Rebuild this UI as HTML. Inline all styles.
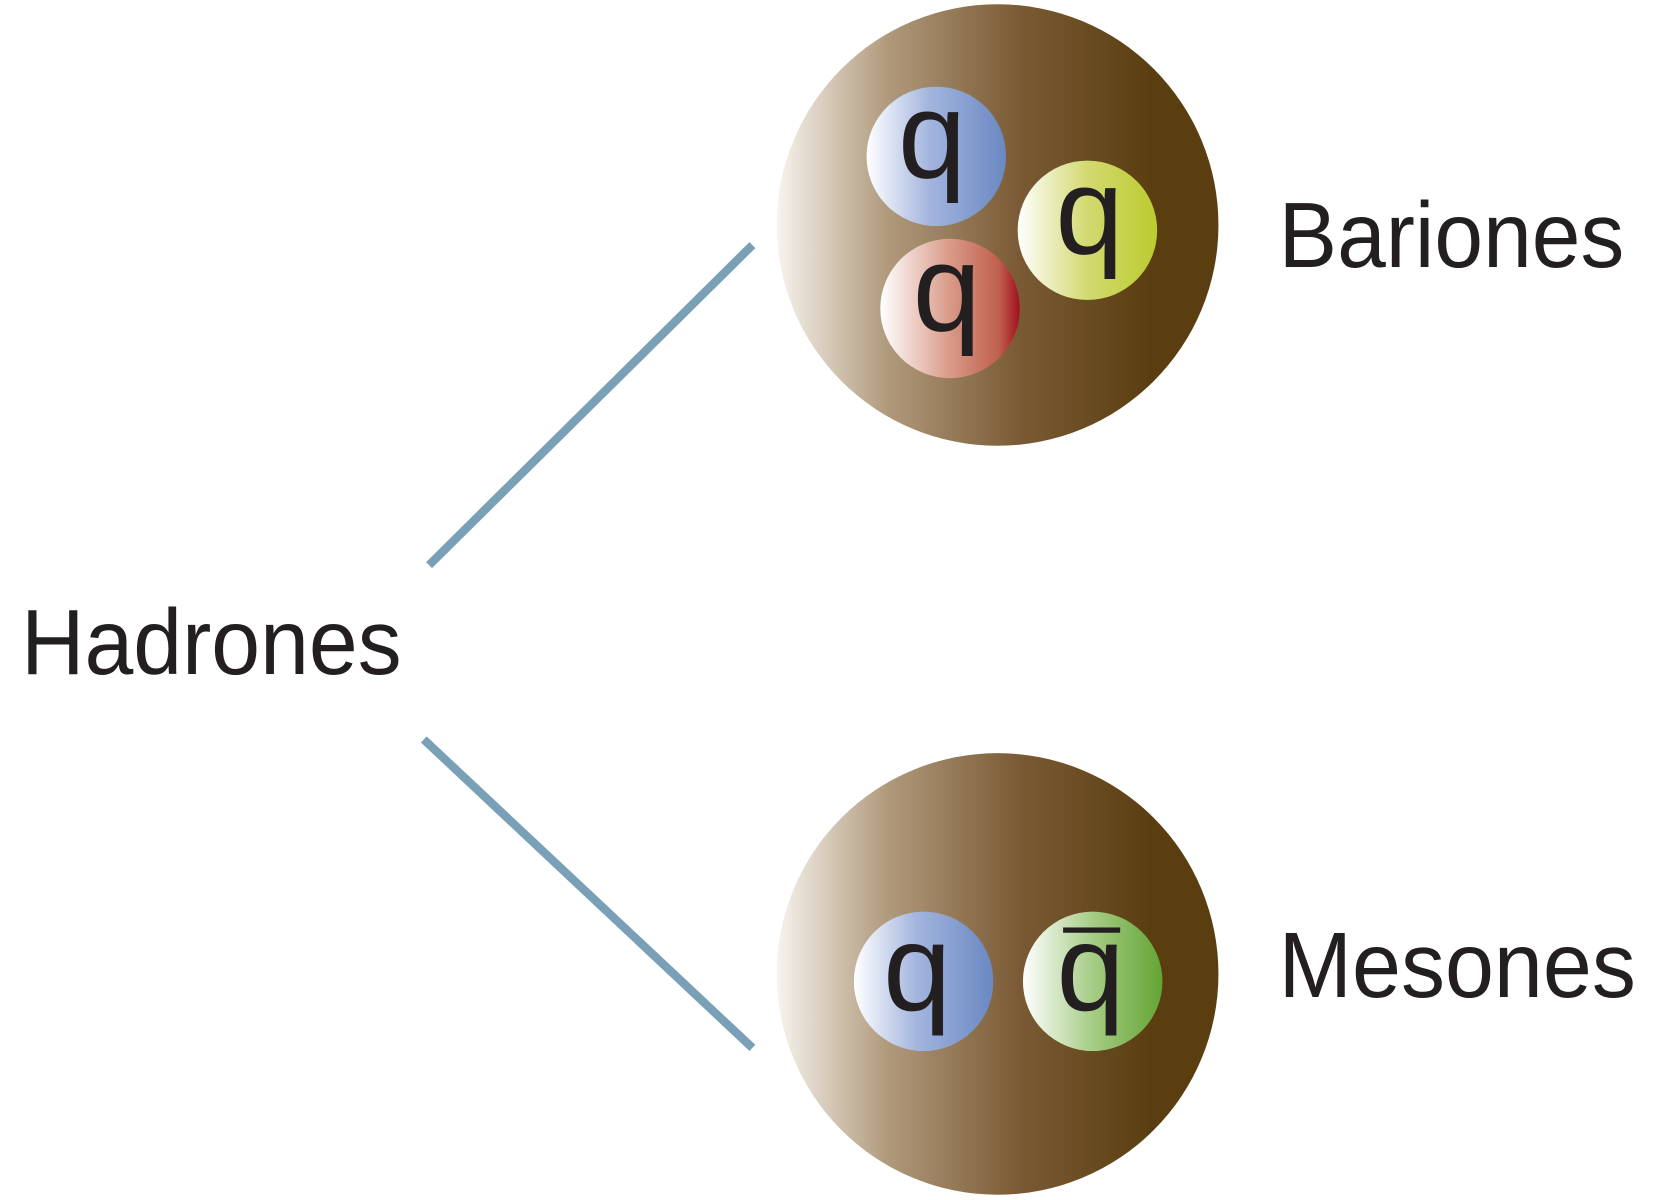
<!DOCTYPE html>
<html><head><meta charset="utf-8"><style>html,body{margin:0;padding:0;background:#fff}svg{display:block}</style></head>
<body>
<svg width="1657" height="1200" viewBox="0 0 1568 1136" preserveAspectRatio="none" xmlns="http://www.w3.org/2000/svg">
<defs>
<linearGradient id="big" x1="0" y1="0" x2="1" y2="0">
<stop offset="0" stop-color="#f7f3ee"/>
<stop offset="0.25" stop-color="#b09a7c"/>
<stop offset="0.55" stop-color="#7a5a34"/>
<stop offset="0.85" stop-color="#5a3e10"/>
<stop offset="1" stop-color="#5a3e10"/>
</linearGradient>
<linearGradient id="blue" x1="0" y1="0" x2="1" y2="0">
<stop offset="0" stop-color="#ffffff"/><stop offset="0.45" stop-color="#a3b5de"/><stop offset="1" stop-color="#6a88c2"/>
</linearGradient>
<linearGradient id="yel" x1="0" y1="0" x2="1" y2="0">
<stop offset="0" stop-color="#ffffff"/><stop offset="0.5" stop-color="#d2d970"/><stop offset="1" stop-color="#bccb2e"/>
</linearGradient>
<linearGradient id="red" x1="0" y1="0" x2="1" y2="0">
<stop offset="0" stop-color="#ffffff"/><stop offset="0.5" stop-color="#d99a88"/><stop offset="0.85" stop-color="#c0604e"/><stop offset="1" stop-color="#a0101e"/>
</linearGradient>
<linearGradient id="grn" x1="0" y1="0" x2="1" y2="0">
<stop offset="0" stop-color="#ffffff"/><stop offset="0.5" stop-color="#a6cc86"/><stop offset="1" stop-color="#64a434"/>
</linearGradient>
</defs>
<line x1="406" y1="535" x2="712" y2="232" stroke="#7aa0b8" stroke-width="8"/>
<line x1="401" y1="700" x2="712" y2="992" stroke="#7aa0b8" stroke-width="8"/>
<circle cx="944" cy="213" r="209" fill="url(#big)"/>
<circle cx="944" cy="922" r="209" fill="url(#big)"/>
<g font-family="Liberation Sans, sans-serif" fill="#231f20" text-anchor="middle" font-size="116">
<circle cx="886" cy="148" r="66" fill="url(#blue)"/>
<text x="882" y="168">q</text>
<circle cx="1029" cy="218" r="66" fill="url(#yel)"/>
<text x="1031" y="240">q</text>
<circle cx="899" cy="292" r="66" fill="url(#red)"/>
<text x="896" y="313">q</text>
<circle cx="874" cy="929" r="66" fill="url(#blue)"/>
<text x="868" y="956">q</text>
<circle cx="1034" cy="929" r="66" fill="url(#grn)"/>
<text x="1032" y="956">q</text>
<rect x="1006" y="878" width="54" height="5"/>
</g>
<g font-family="Liberation Sans, sans-serif" fill="#231f20" font-size="88">
<text x="20" y="638" textLength="360" lengthAdjust="spacingAndGlyphs">Hadrones</text>
<text x="1210" y="253" textLength="327" lengthAdjust="spacingAndGlyphs">Bariones</text>
<text x="1210" y="944" textLength="338" lengthAdjust="spacingAndGlyphs">Mesones</text>
</g>
</svg>
</body></html>
